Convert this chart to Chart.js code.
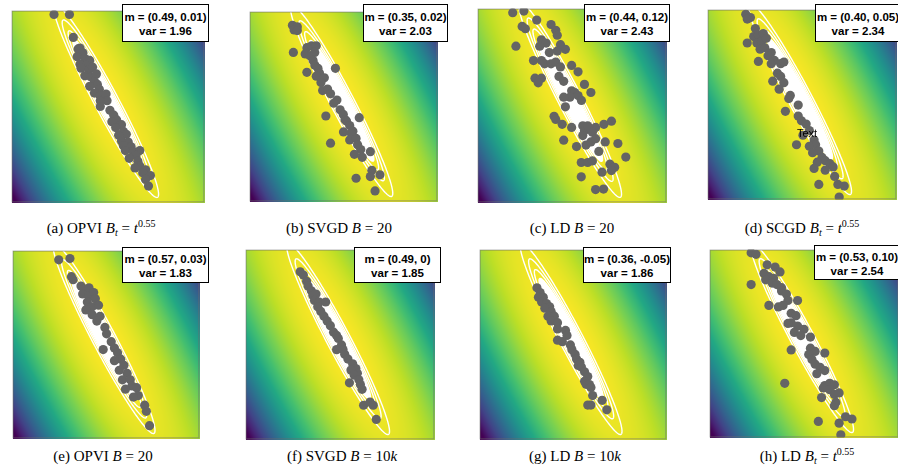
<!DOCTYPE html>
<html>
<head>
<meta charset="utf-8">
<script src="https://cdn.jsdelivr.net/npm/chart.js@4.4.0/dist/chart.umd.min.js"></script>
<style>
  body { margin: 0; width: 898px; height: 465px; background: #fff; position: relative; overflow: hidden; }
  canvas { position: absolute; }
  .stat { position: absolute; box-sizing: border-box; background: #fff; border: 1px solid #000;
          font: bold 11.5px "Liberation Sans", Arial, sans-serif; line-height: 14px; text-align: center;
          white-space: nowrap; color: #000; }
  .cap { position: absolute; width: 240px; margin-left: -120px; text-align: center;
         font: 15px "Liberation Serif", "Times New Roman", serif; line-height: 20px; color: #000; white-space: nowrap; }
  .cap sup { font-size: 10px; vertical-align: 6px; line-height: 0; }
  .cap sub { font-size: 10px; vertical-align: -3px; line-height: 0; font-style: italic; }
  .stray { position: absolute; font: 11px "Liberation Sans", Arial, sans-serif; color: #000; }
</style>
</head>
<body>
<script>
const opviTPoints = [[22,2],[30,2],[32,14],[35.5,19.5],[34.5,20],[37,22],[34,24],[38,25],[40.5,26],[35.5,28],[39,28.5],
  [36,30],[40,31],[42,29.5],[38,34],[41,34.5],[44,33],[43,37],[44.5,38.5],[40.5,39.5],[45.5,41],[43,43],[46,44.5],
  [49,43.5],[49.5,47],[46,47],[46,50],[51,52],[53,54.5],[54.5,57],[52,58],[57,59.5],[54,61],[58,63],[59.5,64.5],
  [55.5,65],[57,68],[60.5,68.5],[58,70.5],[62,71],[59,73],[63,73.5],[66.5,73],[64.5,75.5],[61,77],[65.5,78.5],
  [66.5,81],[64,82],[69.5,83],[68,84.5],[72,86],[69.5,88],[71,91.5]];
const svgd20Points = [[22.8,7.2],[25.4,8],[23.7,9.7],[25.4,10],[23.3,21.5],[30.5,19],[33,18],[35.5,18],[29.6,22.3],
  [32.1,23.2],[34.7,21.5],[33.8,25.7],[34.7,28.2],[36.4,29.9],[37.2,32.4],[30.5,32],[35.5,34],[39.8,34.9],[45.7,29.9],
  [38,37.4],[38.9,41.6],[41.5,40.8],[43.1,43.3],[46.5,46.6],[44.8,48.3],[40.6,55],[48.2,51.7],[49.9,54.2],[50.8,57],
  [51.6,57.6],[53.3,60],[55,63],[50,63.4],[54,64],[58.4,55.9],[43.1,69.3],[53.3,67.6],[56.7,66.8],[57.5,70.1],
  [59.2,72.7],[55.8,75.2],[60,76.8],[64.3,73.8],[65.1,83.6],[64.3,86.9],[69.4,86],[56.7,87.8],[66.8,94.5]];
const ld20Points = [[18.6,2.1],[24.5,1.3],[31.3,5.9],[23.6,9.2],[25.3,10.4],[38.9,8.2],[41.4,11.2],[42.2,13.7],
  [20.3,19.4],[33.8,16.1],[36.3,17.8],[32.9,19.4],[43.9,18.6],[46.5,21],[42.2,21.9],[38,22.7],[29.6,26.8],[33.8,26.8],
  [35.5,28.5],[38.9,28.5],[41.4,27.6],[43.9,30.1],[49.8,29.3],[53.2,32.6],[30.4,35.9],[33.8,35.9],[32.1,38.3],
  [43.1,35],[45.6,37.5],[56.6,39.1],[49.8,42.4],[51.5,43.3],[53.2,44.9],[48.9,45.7],[45.6,45.7],[60,43.3],[55,47.4],
  [46.5,50.7],[40.5,55.6],[41.4,57.2],[44.8,59.7],[49.8,61.3],[55.7,60.5],[56.6,63],[58.3,60.5],[62.5,61.3],
  [66.9,59.7],[70.9,58.1],[60.8,63.8],[55.7,65.5],[45.6,67.9],[52.4,71.2],[57.4,70.4],[60,68.8],[62.5,67.1],
  [67.6,68.8],[74.3,69.6],[64.2,73.7],[54.9,79.4],[58.3,79.4],[60.8,78.6],[70.1,80.3],[72.6,81.9],[78.5,76.6],
  [65.9,84.4],[70.9,83.6],[54.9,86.8],[62.5,93.4],[66.7,93.1]];
const scgdTPoints = [[20.2,2.5],[22.7,4.2],[21,5],[25.3,10],[24.4,14.2],[26.9,13.4],[29.5,12.6],[26.1,17.6],[28.6,16.8],
  [31.1,15.1],[21,17.6],[27.8,20.9],[30.3,20.1],[33.7,22.6],[32,24.3],[26.9,27.3],[35.4,26.8],[33.7,28.5],[38.7,28.5],
  [40.4,27.6],[37,33.5],[38.7,35.2],[34.5,37.7],[40.4,38.5],[37.9,41.9],[43.8,45.2],[43,46.9],[48,50.3],[41.2,53.6],
  [48,56.1],[49.7,58.6],[52.2,60.3],[53.9,63.7],[50.5,66.2],[56.4,68.7],[57.2,71.2],[47.1,71.2],[53.9,72],[58.9,74.5],
  [55.6,75.4],[60.6,77.9],[62.3,79.6],[58.1,80.4],[64.8,81.2],[66.5,82.9],[56.4,83.7],[62.3,84.6],[67.3,87.9],
  [58.9,92.1],[69,92.1],[72.4,93],[69.7,98.8]];
const opvi20Points = [[24.7,4.9],[30.7,4.2],[31.5,13.9],[32.4,15.5],[36.6,18.9],[38.3,20.6],[40.9,19.8],[37.5,23.1],
  [40.9,24],[43.4,22.3],[44.3,25.7],[40,27.4],[42.6,29.9],[46,29.1],[39.2,31.6],[42.6,34.1],[46.8,35],[45.1,37.5],
  [49.4,40.9],[50.3,44.3],[48.5,52.7],[52.8,48.5],[54.5,51.9],[56.2,54.4],[57.9,57.8],[54.5,58.6],[59.6,61.1],
  [57.1,63.7],[61.3,65.4],[58.8,68.8],[63,68.8],[63.9,72.1],[60.4,73.8],[66.4,73],[67.3,77.2],[64.7,78],[70.7,82.3],
  [71.6,85.6],[73.3,93.2]];
const svgd10kPoints = [[28.9,11.7],[30.6,13.4],[32.3,16.7],[33.1,19.2],[34.8,21.7],[35.6,24.2],[37.3,23.4],[36.5,26.8],
  [39,27.6],[42.4,27.6],[38.2,30.1],[39.8,32.6],[41.5,35.1],[43.2,37.6],[44.9,40.1],[46.6,43.5],[48.2,45.2],[49.1,46.8],
  [50.8,50.2],[48.2,52.7],[51.6,52.7],[52.5,55.2],[54.2,57.7],[56.7,60.2],[58.4,62.7],[55.8,63.5],[59.2,65.2],
  [57.5,66.1],[55,70.2],[60,68.6],[60.8,71.1],[61.7,73.6],[62.5,82],[65.9,80.3],[67.6,82],[69.2,89.5]];
const ld10kPoints = [[30.7,20.1],[32.4,22.6],[31.5,25.1],[34.1,25.1],[33.2,27.6],[35.8,28.4],[37.5,30.1],[34.9,30.9],
  [38.3,32.6],[36.6,35.1],[40,35.1],[38.3,37.6],[41.7,38.5],[41.7,41.8],[46,42.6],[46.8,45.2],[41.7,47.7],[44.3,48.5],
  [48.6,50.2],[49.4,52.7],[51.1,55.2],[51.9,57.7],[53.7,59.4],[52.8,61],[54.5,61.9],[56.2,64.4],[57.9,66.9],
  [56.2,69.4],[57,71],[58.8,71.1],[59.6,72.7],[60.5,76.9],[59.6,81.9],[57.9,81.9],[65.6,79.4],[68.1,84.4]];
const ldTPoints = [[22,1.7],[24.6,2.5],[30.5,8.1],[34.7,9.3],[37.3,11.9],[28.8,12.7],[31.4,14.4],[29.7,16.1],[33.9,15.3],
  [33.1,17.8],[35.6,18.6],[38.1,20.3],[38.1,22],[22,18.6],[40.7,23.7],[41.5,27.1],[46.6,27.1],[31.4,29.7],[36.4,30.5],
  [38.9,29.7],[43.2,33.9],[45.8,35.2],[43.2,39],[41.5,39.3],[46.6,40.7],[50,42.4],[44.9,44.1],[48.3,45.8],[53.4,46.6],
  [43.2,53.4],[53.4,52.5],[55.9,54.2],[52.5,55.9],[61,55.1],[54.2,58.5],[55.9,61],[58.5,62.7],[61,64.4],[56.8,66.1],
  [61,72.4],[63.6,71.2],[66.1,72],[60.2,73.7],[63.6,74.6],[66.1,77.1],[68.6,76.3],[59.3,78.8],[66.9,81.4],[66.1,83.1],
  [39.8,71.2],[72,89],[75.4,90.2],[57.6,91.5],[68.6,92.4],[69.5,98.6]];

const panelPoints = [opviTPoints, svgd20Points, ld20Points, scgdTPoints, opvi20Points, svgd10kPoints, ld10kPoints, ldTPoints];
const meanLabels = ['(0.49, 0.01)', '(0.35, 0.02)', '(0.44, 0.12)', '(0.40, 0.05)', '(0.57, 0.03)', '(0.49, 0)', '(0.36, -0.05)', '(0.53, 0.10)'];
const varLabels = ['1.96', '2.03', '2.43', '2.34', '1.83', '1.85', '1.86', '2.54'];
const captions = [
  '(a) OPVI <i>B</i><sub>t</sub> = <i>t</i><sup>0.55</sup>',
  '(b) SVGD <i>B</i> = 20',
  '(c) LD <i>B</i> = 20',
  '(d) SCGD <i>B</i><sub>t</sub> = <i>t</i><sup>0.55</sup>',
  '(e) OPVI <i>B</i> = 20',
  '(f) SVGD <i>B</i> = 10<i>k</i>',
  '(g) LD <i>B</i> = 10<i>k</i>',
  '(h) LD <i>B</i><sub>t</sub> = <i>t</i><sup>0.55</sup>'
];
// target density, same units as the points
const targetCenter = [49, 47];
const targetAxis = [0.468, 0.883];
const targetRadii = [57, 6.2];
const densityLevels = [0.1, 0.2, 0.3, 0.4, 0.5, 0.6, 0.7, 0.8, 0.9];
const filledLevel = 0.4;

// layout (pixels)
const panelBoxes = [[7,6,202,201],[245,7,197,199],[473,4,198,203],[703,5,198,199],
                    [8,246,196,197],[241,245,198,199],[475,245,196,199],[705,245,198,197]];
const statBoxes = [[122,4,87,38,5],[363,4,85,38,5],[584,4,86,38,5],[815,4,86,38,5],
                   [122,247,87,36,4],[354,247,87,36,4],[583,247,88,36,4],[814,245,86,35,4]];
const captionPos = [[101,218],[339,218],[572,218],[802,218],[103,446],[342,446],[575,446],[807,446]];

const VIRIDIS = ['#440154','#482475','#414487','#355f8d','#2a788e','#21918c','#22a884','#44bf70','#7ad151','#bddf26','#fde725']
  .map(h => [1, 3, 5].map(i => parseInt(h.slice(i, i + 2), 16)));

function viridis(t) {
    t = Math.max(0, Math.min(1, t));
    const s = t * 10, i = Math.min(9, Math.floor(s)), f = s - i;
    return [0, 1, 2].map(k => VIRIDIS[i][k] + (VIRIDIS[i + 1][k] - VIRIDIS[i][k]) * f);
}

function fieldValue(x, y) {
    const dx = x - targetCenter[0], dy = y - targetCenter[1];
    const along = dx * targetAxis[0] + dy * targetAxis[1];
    const across = dx * targetAxis[1] - dy * targetAxis[0];
    return 1 - Math.pow(Math.abs(across) / 66, 2.1) - Math.pow(along / 300, 2);
}

function tracePath(ctx, x, y, level) {
    const r = Math.sqrt(-2 * Math.log(level)) / Math.sqrt(-2 * Math.log(densityLevels[0]));
    ctx.beginPath();
    for (let s = 0; s <= 240; s++) {
        const th = s / 240 * 2 * Math.PI;
        const al = targetRadii[0] * r * Math.cos(th), ac = targetRadii[1] * r * Math.sin(th);
        const px = x.getPixelForValue(targetCenter[0] + al * targetAxis[0] + ac * targetAxis[1]);
        const py = y.getPixelForValue(targetCenter[1] + al * targetAxis[1] - ac * targetAxis[0]);
        if (s) ctx.lineTo(px, py); else ctx.moveTo(px, py);
    }
    ctx.closePath();
}

const densityBackground = {
    id: 'densityBackground',
    beforeDatasetsDraw(chart) {
        const { ctx, chartArea: a, scales: { x, y } } = chart;
        const w = Math.round(a.right - a.left), h = Math.round(a.bottom - a.top);
        const off = document.createElement('canvas');
        off.width = w; off.height = h;
        const octx = off.getContext('2d');
        const img = octx.createImageData(w, h);
        for (let j = 0; j < h; j++) {
            const vy = y.getValueForPixel(a.top + j + 0.5);
            for (let i = 0; i < w; i++) {
                const c = viridis(fieldValue(x.getValueForPixel(a.left + i + 0.5), vy));
                const k = (j * w + i) * 4;
                img.data[k] = c[0]; img.data[k + 1] = c[1]; img.data[k + 2] = c[2]; img.data[k + 3] = 255;
            }
        }
        octx.putImageData(img, 0, 0);
        ctx.save();
        ctx.drawImage(off, a.left, a.top);
        ctx.beginPath();
        ctx.rect(a.left, a.top, w, h);
        ctx.clip();
        ctx.fillStyle = '#ffffff';
        tracePath(ctx, x, y, filledLevel);
        ctx.fill();
        ctx.strokeStyle = '#ffffff';
        ctx.lineWidth = 1.4;
        densityLevels.forEach(level => {
            tracePath(ctx, x, y, level);
            ctx.stroke();
        });
        ctx.restore();
    },
    afterDraw(chart) {
        const { ctx, chartArea: a } = chart;
        ctx.save();
        ctx.strokeStyle = 'rgba(110,110,110,0.6)';
        ctx.lineWidth = 1;
        ctx.strokeRect(a.left + 0.5, a.top + 0.5, a.right - a.left - 1, a.bottom - a.top - 1);
        ctx.restore();
    }
};

panelPoints.forEach((pts, idx) => {
    const [left, top, w, h] = panelBoxes[idx];
    const canvas = document.createElement('canvas');
    canvas.width = w; canvas.height = h;
    canvas.style.left = left + 'px'; canvas.style.top = top + 'px';
    document.body.appendChild(canvas);

    new Chart(canvas, {
        type: 'scatter',
        data: {
            datasets: [{
                data: pts.map(p => ({ x: p[0], y: p[1] })),
                backgroundColor: '#646464',
                borderWidth: 0,
                pointRadius: 4.6
            }]
        },
        options: {
            responsive: false,
            devicePixelRatio: 1,
            animation: false,
            layout: { padding: 0 },
            plugins: { legend: { display: false }, tooltip: { enabled: false } },
            scales: {
                x: { type: 'linear', min: 0, max: 100, display: false },
                y: { type: 'linear', min: 0, max: 100, reverse: true, display: false }
            }
        },
        plugins: [densityBackground]
    });

    const [bl, bt, bw, bh, pad] = statBoxes[idx];
    const box = document.createElement('div');
    box.className = 'stat';
    box.style.cssText = `left:${bl}px;top:${bt}px;width:${bw}px;height:${bh}px;padding-top:${pad}px;`;
    box.innerHTML = `m = ${meanLabels[idx]}<br>var = ${varLabels[idx]}`;
    document.body.appendChild(box);

    const cap = document.createElement('div');
    cap.className = 'cap';
    cap.style.left = captionPos[idx][0] + 'px';
    cap.style.top = captionPos[idx][1] + 'px';
    cap.innerHTML = captions[idx];
    document.body.appendChild(cap);
});

const stray = document.createElement('div');
stray.className = 'stray';
stray.style.cssText = 'left:797px;top:127px;';
stray.textContent = 'Text';
document.body.appendChild(stray);
</script>
</body>
</html>
